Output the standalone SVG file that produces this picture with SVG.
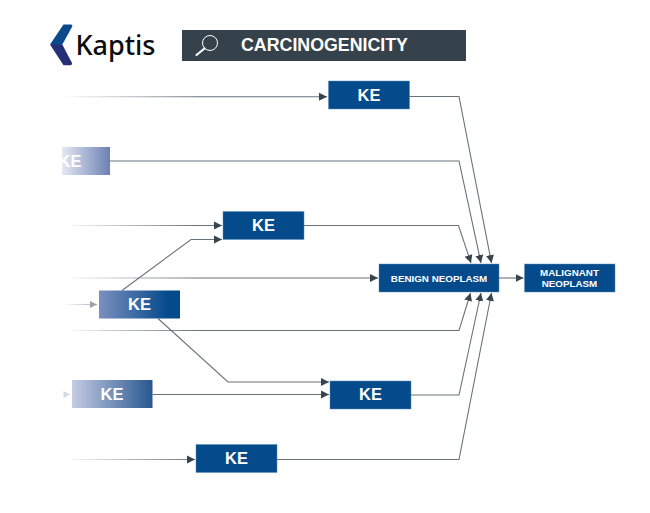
<svg xmlns="http://www.w3.org/2000/svg" width="650" height="513" viewBox="0 0 650 513">
<style>
text{font-family:"Liberation Sans",Arial,sans-serif;font-weight:700;fill:#fff;text-anchor:middle}
.ke{font-size:16.500px}
.small{font-size:9.800px}
.box{fill:#054a8b;stroke:#5d8cbb;stroke-width:.5}
.c{fill:none;stroke:#68727b;stroke-width:1.100}
</style>
<defs>
<marker id="a" markerUnits="userSpaceOnUse" markerWidth="10" markerHeight="10" refX="8" refY="5" orient="auto"><path d="M0 1L8 5L0 9Z" fill="#37434d"/></marker>
<marker id="p" markerUnits="userSpaceOnUse" markerWidth="10" markerHeight="10" refX="7" refY="5" orient="auto"><path d="M0 1.500L7 5L0 8.500Z" fill="#9aa1a8"/></marker>
<linearGradient id="f1" gradientUnits="userSpaceOnUse" x1="62" y1="0" x2="200" y2="0"><stop offset="0" stop-color="#68727b" stop-opacity="0"/><stop offset="1" stop-color="#68727b"/></linearGradient>
<linearGradient id="f2" gradientUnits="userSpaceOnUse" x1="62" y1="0" x2="100" y2="0"><stop offset="0" stop-color="#aab0b6" stop-opacity="0"/><stop offset="1" stop-color="#aab0b6"/></linearGradient>
<linearGradient id="g2" x1="0" y1="0" x2="1" y2="0"><stop offset="0" stop-color="#e6e8f4"/><stop offset="1" stop-color="#6b81b4"/></linearGradient>
<linearGradient id="g4" x1="0" y1="0" x2="1" y2="0"><stop offset="0" stop-color="#7b8fbe"/><stop offset=".85" stop-color="#054a8b"/></linearGradient>
<linearGradient id="g5" x1="0" y1="0" x2="1" y2="0"><stop offset="0" stop-color="#c6cce4"/><stop offset="1" stop-color="#27578f"/></linearGradient>
</defs>
<g id="logo">
<path d="M63.500 24.500H71Q73 25 72 27L62.300 44.500L56 46L50 44.500Z" fill="#0a4a8c"/>
<path d="M50 44.500L62.300 44.500L72 63Q72.500 65 70.500 65.300H63.500Z" fill="#252f78"/>
<text x="115.500" y="55" style="font-family:'Noto Sans',sans-serif;font-weight:500;font-size:27px;fill:#0c0c0e">Kaptis</text>
</g>
<g id="header">
<rect x="182" y="30" width="284" height="31" fill="#36424b"/>
<circle cx="210" cy="43" r="7.500" fill="none" stroke="#fff" stroke-width="1"/>
<path d="M204.500 48.500L196.500 55" stroke="#fff" stroke-width="2.200" stroke-linecap="round"/>
<text x="324.500" y="50.800" style="font-size:17.800px">CARCINOGENICITY</text>
</g>
<g id="connectors">
<path class="c" d="M62 96.700H327" style="stroke:url(#f1)" marker-end="url(#a)"/>
<path class="c" d="M409 96.500H459L491.500 263" marker-end="url(#a)"/>
<path class="c" d="M110 161H459L481 263" marker-end="url(#a)"/>
<path class="c" d="M70 225.500H222" style="stroke:url(#f1)" marker-end="url(#a)"/>
<path class="c" d="M304 225.500H458.500L471 263" marker-end="url(#a)"/>
<path class="c" d="M122 290.500L191 239.500H222" marker-end="url(#a)"/>
<path class="c" d="M70 278H378" style="stroke:url(#f1)" marker-end="url(#a)"/>
<path class="c" d="M65 304.500H97" style="stroke:url(#f2)" marker-end="url(#p)"/>
<path class="c" d="M70 330.500H459L470.500 293" style="stroke:url(#f1)" marker-end="url(#a)"/>
<path class="c" d="M158 318.500L228 382H329" marker-end="url(#a)"/>
<path class="c" d="M152.500 394.500H329" marker-end="url(#a)"/>
<path d="M63.500 391L70 394.500L63.500 398Z" fill="#d5d8dc"/>
<path class="c" d="M411 395H459L481 293" marker-end="url(#a)"/>
<path class="c" d="M70 459.500H195" style="stroke:url(#f1)" marker-end="url(#a)"/>
<path class="c" d="M277 459.500H459L491.500 293" marker-end="url(#a)"/>
<path class="c" d="M499 278H523.500" marker-end="url(#a)"/>
</g>
<g id="ke1"><rect class="box" x="328.500" y="81" width="81" height="28"/><text class="ke" x="369" y="100.800">KE</text></g>
<g id="ke2"><rect x="62" y="147" width="48" height="28" fill="url(#g2)"/><text class="ke" x="70" y="166.800">KE</text></g>
<g id="ke3"><rect class="box" x="223" y="211.500" width="81" height="28"/><text class="ke" x="263.500" y="231.300">KE</text></g>
<g id="ke4"><rect x="99" y="290.500" width="81" height="28" fill="url(#g4)"/><text class="ke" x="139.500" y="310.300">KE</text></g>
<g id="ke5"><rect x="72" y="380" width="80.500" height="28" fill="url(#g5)"/><text class="ke" x="112" y="399.800">KE</text></g>
<g id="ke6"><rect class="box" x="330" y="381" width="81" height="28"/><text class="ke" x="370.500" y="400.300">KE</text></g>
<g id="ke7"><rect class="box" x="196" y="444.500" width="81" height="28"/><text class="ke" x="236.500" y="464.300">KE</text></g>
<g id="benign"><rect class="box" x="379" y="264" width="120" height="28"/><text class="small" x="439" y="281.500">BENIGN NEOPLASM</text></g>
<g id="malignant"><rect class="box" x="524.500" y="264" width="90.500" height="28"/><text class="small" x="569.500" y="276">MALIGNANT</text><text class="small" x="569.500" y="286.500">NEOPLASM</text></g>
</svg>
